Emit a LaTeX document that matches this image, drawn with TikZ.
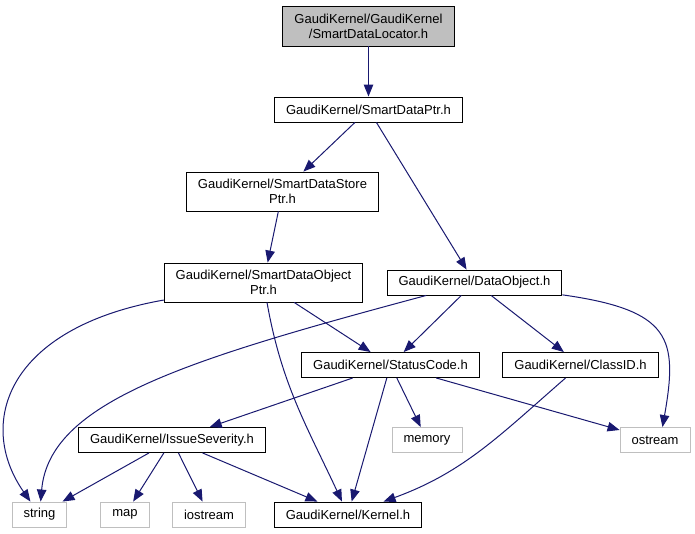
\documentclass[tikz,border=0pt]{standalone}
\usepackage{fontspec}
\setmainfont{Liberation Sans}
\usetikzlibrary{arrows.meta}
\definecolor{edgeblue}{HTML}{191970}
\definecolor{hdgray}{HTML}{BFBFBF}
\tikzstyle{file}=[draw=black,fill=white,line width=0.9pt,inner xsep=11.5pt,inner ysep=2pt,minimum height=25pt,align=center,font=\fontsize{13}{15}\selectfont]
\tikzstyle{sys}=[file,draw=hdgray]

\begin{document}
\begin{tikzpicture}[->,>={Triangle[length=12pt,width=9.5pt]},x=1pt,y=1pt,every edge/.style={draw=edgeblue,line width=1pt}]
\useasboundingbox (0,0) rectangle (695,533);

				\draw node [file,fill=hdgray,minimum height=40pt] (loc) at (368.5,507) {GaudiKernel/GaudiKernel\\/SmartDataLocator.h};
				\draw node [file,below of=loc,node distance=83.5pt] (sdp) {GaudiKernel/SmartDataPtr.h};
				\draw node [file,minimum height=39pt] (sds) at (282.5,341.5) {GaudiKernel/SmartDataStore\\Ptr.h};
				\draw node [file,minimum height=39pt] (sdo) at (263.5,250.5) {GaudiKernel/SmartDataObject\\Ptr.h};
				\draw node [file,right of=sdo,node distance=211pt] (dob) {GaudiKernel/DataObject.h};

				\draw node [file] (sc) at (390.5,168) {GaudiKernel/StatusCode.h};
				\draw node [file,right of=sc,node distance=190pt] (cid) {GaudiKernel/ClassID.h};

				\draw node [file] (iss) at (172,93) {GaudiKernel/IssueSeverity.h};
				\draw node [sys] (mem) at (427,93) {memory};
				\draw node [sys,right of=mem,node distance=228pt] (ost) {ostream};

				\draw node [sys] (str) at (39.5,18.5) {string};
				\draw node [sys,right of=str,node distance=85.5pt] (map) {map};
				\draw node [sys,right of=map,node distance=84pt] (ios) {iostream};
				\draw node [file,right of=ios,node distance=139pt] (ker) {GaudiKernel/Kernel.h};

				\path
				(loc) edge (sdp)
				(sdp) edge (sds)
				(sdp) edge (dob)
				(sds) edge (sdo)

				(sdo) edge[out=190,in=125,out distance=160pt,in distance=95pt] (str)
				(sdo) edge (sc)
				(sdo) edge[out=-80,in=115] (ker)

				(dob) edge[out=195,in=85,out distance=250pt,in distance=100pt] (str)
				(dob) edge (sc)
				(dob) edge (cid)
				(dob) edge[out=-8,in=80,out distance=110pt,in distance=90pt] (ost.60)

				(sc) edge (iss)
				(sc) edge (mem)
				(sc) edge (ost)
				(sc) edge (ker)
				(cid) edge[out=221,in=20] (ker)

				(iss) edge (str)
				(iss) edge (map)
				(iss) edge (ios)
				(iss) edge (ker)
				;
\end{tikzpicture}
\end{document}
